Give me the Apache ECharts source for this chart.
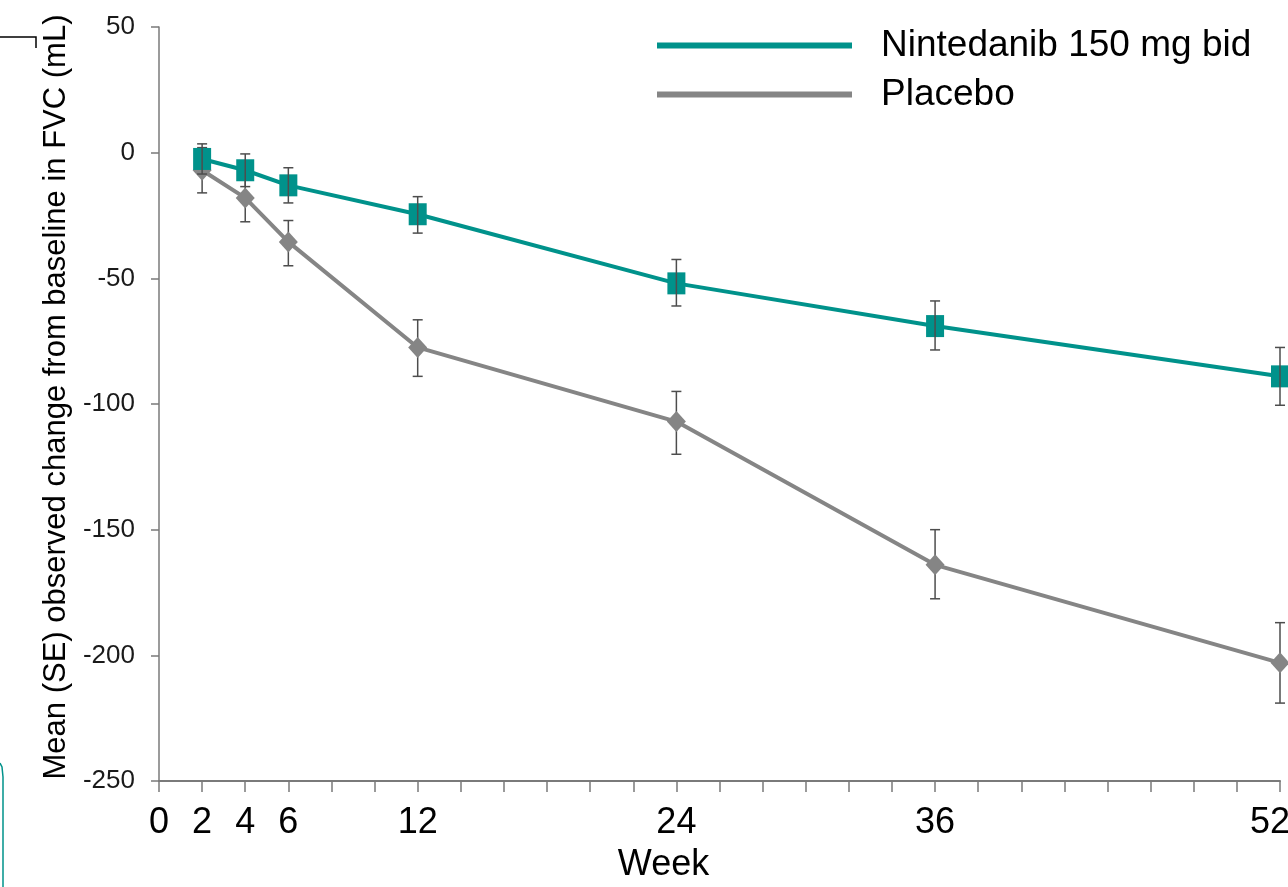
<!DOCTYPE html>
<html>
<head>
<meta charset="utf-8">
<title>FVC change</title>
<script src="https://cdn.jsdelivr.net/npm/echarts@6/dist/echarts.min.js"></script>
<style>
    html, body { margin: 0; padding: 0; background: #fff; }
    .fvc { width: 1288px; height: 887px; }
</style>
</head>
<body>
<div class="fvc"></div>
<script>
// weeks on the x axis and labels shown under it
var weeks = [2, 4, 6, 12, 24, 36, 52];
var weekLabels = [0, 2, 4, 6, 12, 24, 36, 52];
var yTicks = [-250, -200, -150, -100, -50, 0, 50];

// Nintedanib 150 mg bid: mean and SE bounds (mL)
var ninMean = [-2.5, -7, -13, -24.5, -52, -69, -89];
var ninLow = [-8.5, -13.5, -20, -32, -61, -78.5, -100.5];
var ninHigh = [3.5, -0.5, -6, -17.5, -42.5, -59, -77.5];

// Placebo: mean and SE bounds (mL)
var plaMean = [-7, -18, -35.5, -77.5, -107, -164, -203];
var plaLow = [-16, -27.5, -45, -89, -120, -177.5, -219];
var plaHigh = [2, -8.5, -27, -66.5, -95, -150, -187];

(function () {
    var teal = '#00928b';
    var grey = '#858585';
    var font = '"Liberation Sans", Arial, sans-serif';

    function pairs(ys) {
        var out = [];
        for (var i = 0; i < weeks.length; i++) {
            out.push([weeks[i], ys[i]]);
        }
        return out;
    }
    function bars(lo, hi) {
        var out = [];
        for (var i = 0; i < weeks.length; i++) {
            out.push([weeks[i], lo[i], hi[i]]);
        }
        return out;
    }
    function errorBar(params, api) {
        var top = api.coord([api.value(0), api.value(2)]);
        var bot = api.coord([api.value(0), api.value(1)]);
        var w = 5;
        var st = { stroke: '#4d4d4d', lineWidth: 1.5 };
        return {
            type: 'group',
            children: [
                { type: 'line', shape: { x1: top[0], y1: top[1], x2: bot[0], y2: bot[1] }, style: st },
                { type: 'line', shape: { x1: top[0] - w, y1: top[1], x2: top[0] + w, y2: top[1] }, style: st },
                { type: 'line', shape: { x1: bot[0] - w, y1: bot[1], x2: bot[0] + w, y2: bot[1] }, style: st }
            ]
        };
    }

    var myChart = echarts.init(document.querySelector('.fvc'));
    var option = {
        animation: false,
        textStyle: { fontFamily: font },
        legend: {
            orient: 'vertical',
            left: 652,
            top: 22,
            itemWidth: 195,
            itemHeight: 6,
            itemGap: 12,
            selectedMode: false,
            textStyle: {
                fontSize: 37,
                color: '#000',
                lineHeight: 36,
                padding: [0, 0, 0, 24]
            },
            data: [
                { name: 'Nintedanib 150 mg bid', icon: 'rect' },
                { name: 'Placebo', icon: 'rect' }
            ]
        },
        grid: {
            left: 159,
            right: 8,
            top: 27,
            bottom: 106,
            outerBoundsMode: 'none'
        },
        xAxis: {
            type: 'value',
            min: 0,
            max: 52,
            interval: 2,
            name: 'Week',
            nameLocation: 'middle',
            nameGap: 66,
            nameTextStyle: {
                fontSize: 36,
                color: '#000',
                padding: [0, 112, 0, 0]
            },
            axisLine: {
                onZero: false,
                lineStyle: { color: '#7a7a7a', width: 2 }
            },
            axisTick: {
                show: true,
                length: 11,
                lineStyle: { color: '#7a7a7a', width: 1.5 }
            },
            axisLabel: {
                fontSize: 36,
                color: '#000',
                margin: 24,
                showMaxLabel: true,
                formatter: function (v) {
                    if (v === 52) {
                        return '{last|52}';
                    }
                    return weekLabels.indexOf(v) >= 0 ? String(v) : '';
                },
                rich: {
                    last: {
                        fontSize: 36,
                        color: '#000',
                        padding: [0, 20, 0, 0]
                    }
                }
            },
            splitLine: { show: false }
        },
        yAxis: {
            type: 'value',
            min: yTicks[0],
            max: yTicks[yTicks.length - 1],
            interval: 50,
            name: 'Mean (SE) observed change from baseline in FVC (mL)',
            nameLocation: 'middle',
            nameRotate: 90,
            nameGap: 86,
            nameTextStyle: {
                fontSize: 31,
                color: '#000',
                padding: [0, 0, 0, 14]
            },
            axisLine: {
                show: true,
                lineStyle: { color: '#7a7a7a', width: 1.5 }
            },
            axisTick: {
                show: true,
                length: 8,
                lineStyle: { color: '#7a7a7a', width: 1.5 }
            },
            axisLabel: {
                fontSize: 26,
                color: '#1a1a1a',
                margin: 24
            },
            splitLine: { show: false }
        },
        series: [
            {
                name: 'Nintedanib 150 mg bid',
                type: 'line',
                data: pairs(ninMean),
                symbol: 'rect',
                symbolSize: [18, 22],
                z: 4,
                lineStyle: { color: teal, width: 4 },
                itemStyle: { color: teal }
            },
            {
                name: 'Placebo',
                type: 'line',
                data: pairs(plaMean),
                symbol: 'diamond',
                symbolSize: [19, 21],
                z: 3,
                lineStyle: { color: grey, width: 4 },
                itemStyle: { color: grey }
            },
            {
                type: 'custom',
                name: 'ninSE',
                renderItem: errorBar,
                data: bars(ninLow, ninHigh),
                encode: { x: 0, y: [1, 2] },
                z: 5,
                silent: true
            },
            {
                type: 'custom',
                name: 'plaSE',
                renderItem: errorBar,
                data: bars(plaLow, plaHigh),
                encode: { x: 0, y: [1, 2] },
                z: 2,
                silent: true
            }
        ],
        graphic: [
            {
                type: 'polyline',
                shape: { points: [[0, 37], [36, 37], [36, 48]] },
                style: { stroke: '#000', lineWidth: 1.5, fill: null }
            },
            {
                type: 'polyline',
                shape: { points: [[0, 763], [2, 767], [3, 777], [3, 887]] },
                style: { stroke: teal, lineWidth: 1.5, fill: null }
            }
        ]
    };
    myChart.setOption(option);
    window.addEventListener('resize', function () {
        myChart.resize();
    });
})();
</script>
</body>
</html>
